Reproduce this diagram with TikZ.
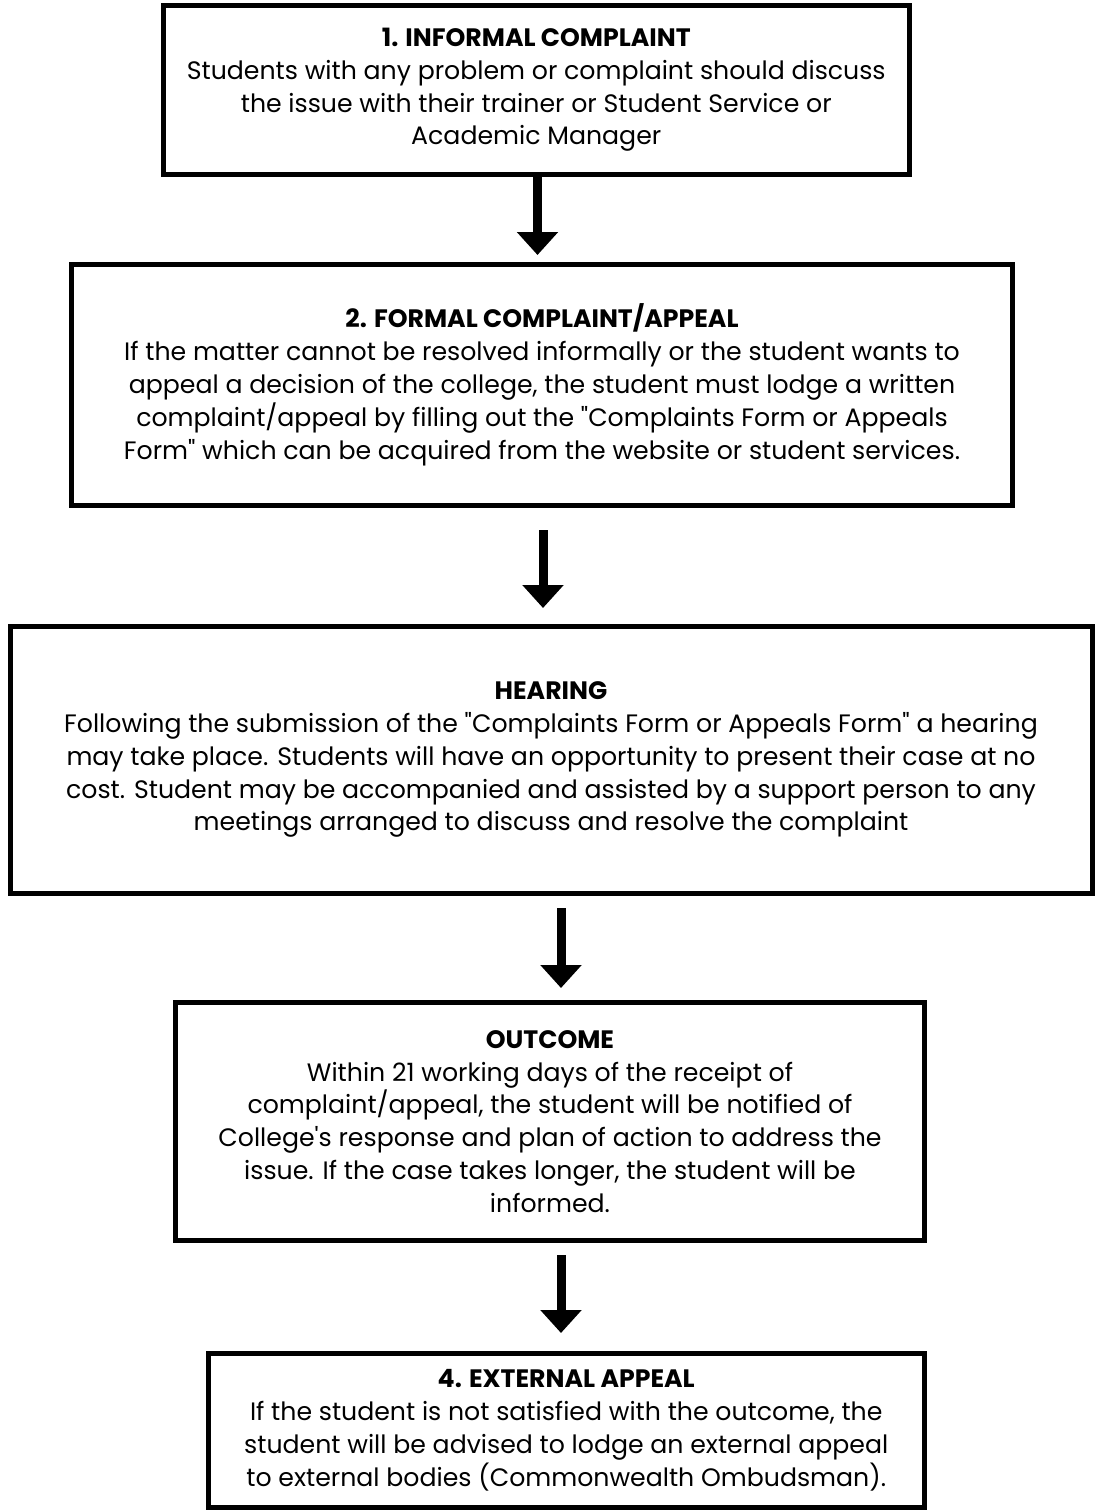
\documentclass[tikz,border=0pt]{standalone}
\usepackage{fontspec}
\setmainfont{Poppins}
\newfontfamily\rawpop{Poppins}[Ligatures=ResetAll]
\usetikzlibrary{arrows.meta}
\newcommand{\qd}{{\rawpop\char34}}
\newcommand{\qs}{{\rawpop\char39}}
\tikzset{
  stepbox/.style={draw=black, line width=5pt, fill=white, align=center, inner sep=0pt,
    font=\fontsize{25.2}{32.8}\selectfont},
  flowarrow/.style={line width=9pt, -{Triangle[width=40pt,length=23pt]}}
}
\begin{document}
\begin{tikzpicture}[x=1pt,y=-1pt]
\useasboundingbox[fill=white] (0,0) rectangle (1096,1510);
\node[stepbox, minimum width=746.5pt, minimum height=169pt] (b1) at (536.25,90)
 {\textbf{1. INFORMAL COMPLAINT}\\Students with any problem or complaint should discuss\\the issue with their trainer or Student Service or\\Academic Manager};
\node[stepbox, minimum width=941pt, minimum height=240.5pt] (b2) at (542,384.75)
 {\textbf{2. FORMAL COMPLAINT/APPEAL}\\If the matter cannot be resolved informally or the student wants to\\appeal a decision of the college, the student must lodge a written\\complaint/appeal by filling out the \qd Complaints Form or Appeals\\Form\qd{} which can be acquired from the website or student services.};
\node[stepbox, minimum width=1082pt, minimum height=266.5pt] (b3) at (551,759.75)
 {\textbf{HEARING}\\Following the submission of the \qd Complaints Form or Appeals Form\qd{} a hearing\\may take place. Students will have an opportunity to present their case at no\\cost. Student may be accompanied and assisted by a support person to any\\meetings arranged to discuss and resolve the complaint};
\node[stepbox, minimum width=749pt, minimum height=238pt] (b4) at (550,1121.5)
 {\textbf{OUTCOME}\\Within 21 working days of the receipt of\\complaint/appeal, the student will be notified of\\College\qs s response and plan of action to address the\\issue. If the case takes longer, the student will be\\informed.};
\node[stepbox, minimum width=716.5pt, minimum height=153.5pt] (b5) at (566.25,1430.25)
 {\textbf{4. EXTERNAL APPEAL}\\If the student is not satisfied with the outcome, the\\student will be advised to lodge an external appeal\\to external bodies (Commonwealth Ombudsman).};
\coordinate (s2) at (543,530);
\coordinate (t1) at (537.5,255);
\coordinate (t2) at (543,608);
\coordinate (s3) at (561,908);
\coordinate (t3) at (561,988);
\coordinate (s4) at (561,1255);
\coordinate (t4) at (561,1333);
\draw[flowarrow] (b1.south -| t1) -- (t1);
\draw[flowarrow] (s2) -- (t2);
\draw[flowarrow] (s3) -- (t3);
\draw[flowarrow] (s4) -- (t4);
\end{tikzpicture}
\end{document}
